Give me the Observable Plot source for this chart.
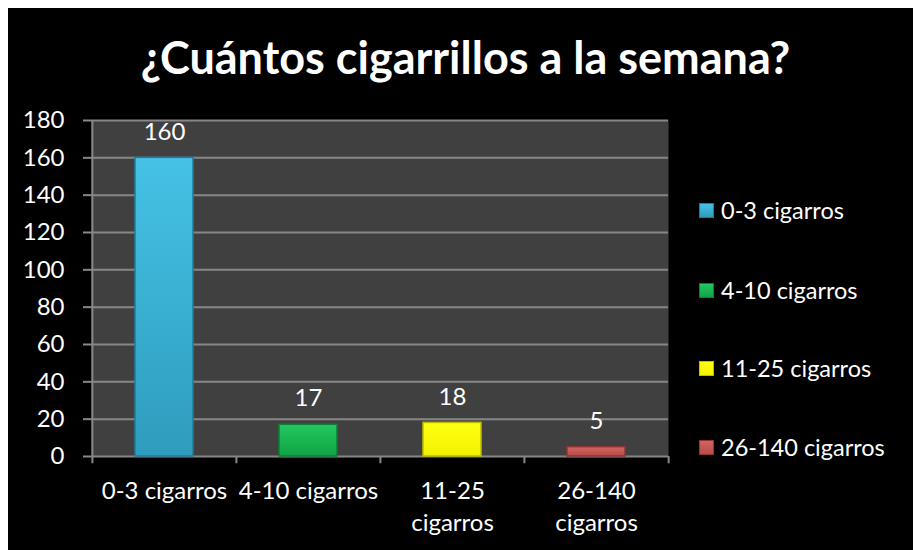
<!DOCTYPE html>
<html><head><meta charset="utf-8">
<script src="https://cdn.jsdelivr.net/npm/d3@7"></script>
<script src="https://cdn.jsdelivr.net/npm/@observablehq/plot@0.6"></script>
<style>
body{margin:0;background:#fff;}
#wrap{position:absolute;left:8px;top:8px;width:905px;height:542px;background:#000;overflow:hidden;font-family:Lato,sans-serif;}
#title{position:absolute;left:5px;width:905px;top:27px;text-align:center;color:#fff;font-weight:700;font-size:45px;line-height:1;white-space:nowrap;}
#chart{position:absolute;left:0;top:0;}
.item{position:absolute;left:691px;height:26px;display:flex;align-items:center;color:#fff;font-size:23.5px;transform:translateY(-50%);white-space:nowrap;}
.sw{width:15px;height:15px;margin-right:7px;box-sizing:border-box;}
</style></head>
<body>
<div id="wrap">
  <div id="title">¿Cuántos cigarrillos a la semana?</div>
  <div id="chart"></div>
  <div id="legend"></div>
</div>
<script>
const categories = ["0-3 cigarros","4-10 cigarros","11-25 cigarros","26-140 cigarros"];
const values = [160, 17, 18, 5];
const xTickLabels = ["0-3 cigarros","4-10 cigarros","11-25\ncigarros","26-140\ncigarros"];
const yTicks = [0,20,40,60,80,100,120,140,160,180];
const colorsTop = ["#45C2E6","#22C860","#FFFF10","#D26462"];
const colorsBottom = ["#2E9CBD","#12A346","#F2F200","#B84A48"];
const colorsEdge = ["#1F7C99","#0C7E36","#BDBD00","#8E3533"];

const W = 905, H = 542, mL = 83, mR = 245, mT = 112, mB = 94;
const bandStep = (W - mL - mR) / categories.length;
const grid = "#878787";

const data = categories.map((c, i) => ({cat: c, value: values[i], grad: `url(#g${i})`, edge: colorsEdge[i], label: xTickLabels[i]}));
const labelOf = new Map(data.map(d => [d.cat, d.label]));

const chart = Plot.plot({
  width: W, height: H,
  marginLeft: mL, marginRight: mR, marginTop: mT, marginBottom: mB,
  style: {background: "transparent", color: "#fff", fontFamily: "Lato, sans-serif", fontSize: "24px", overflow: "visible"},
  x: {domain: categories, padding: 0},
  y: {domain: [0, 180]},
  color: {type: "identity"},
  marks: [
    Plot.frame({fill: "#404040", stroke: "none"}),
    Plot.gridY(yTicks, {stroke: grid, strokeOpacity: 1, strokeWidth: 2}),
    Plot.axisY(yTicks, {tickSize: 8, tickPadding: 19, stroke: grid, strokeWidth: 2, fill: "#fff", fontSize: 24, label: null}),
    Plot.ruleX([categories[0]], {x: d => d, y1: 180, y2: 0, dx: -bandStep / 2, stroke: grid, strokeWidth: 2}),
    Plot.ruleX(categories, {x: d => d, y1: 0, y2: -3.9, dx: -bandStep / 2, stroke: grid, strokeWidth: 2}),
    Plot.ruleX([categories[categories.length - 1]], {x: d => d, y1: 0, y2: -3.9, dx: bandStep / 2, stroke: grid, strokeWidth: 2}),
    Plot.barY(data, {x: "cat", y: "value", fill: "grad", stroke: "edge", strokeWidth: 1.5, insetLeft: 43, insetRight: 43}),
    Plot.text(data, {x: "cat", y: "value", text: d => String(d.value), dy: -26, fill: "#fff", fontSize: 24, lineAnchor: "middle"}),
    Plot.axisX({tickSize: 0, tickPadding: 20, fontSize: 24, fill: "#fff", lineHeight: 1.33, tickFormat: d => labelOf.get(d), label: null})
  ]
});

const svg = d3.select(chart);
const defs = svg.insert("defs", ":first-child");
categories.forEach((c, i) => {
  const g = defs.append("linearGradient").attr("id", `g${i}`).attr("x1", 0).attr("y1", 0).attr("x2", 0).attr("y2", 1);
  g.append("stop").attr("offset", "0%").attr("stop-color", colorsTop[i]);
  g.append("stop").attr("offset", "100%").attr("stop-color", colorsBottom[i]);
});
document.getElementById("chart").appendChild(chart);

const legendY = [202, 282, 360, 439];
const legend = document.getElementById("legend");
categories.forEach((c, i) => {
  const it = document.createElement("div");
  it.className = "item";
  it.style.top = legendY[i] + "px";
  const sw = document.createElement("div");
  sw.className = "sw";
  sw.style.background = `linear-gradient(${colorsTop[i]}, ${colorsBottom[i]})`;
  sw.style.border = `1px solid ${colorsEdge[i]}`;
  const t = document.createElement("span");
  t.textContent = c;
  it.appendChild(sw); it.appendChild(t);
  legend.appendChild(it);
});
</script>
</body></html>
